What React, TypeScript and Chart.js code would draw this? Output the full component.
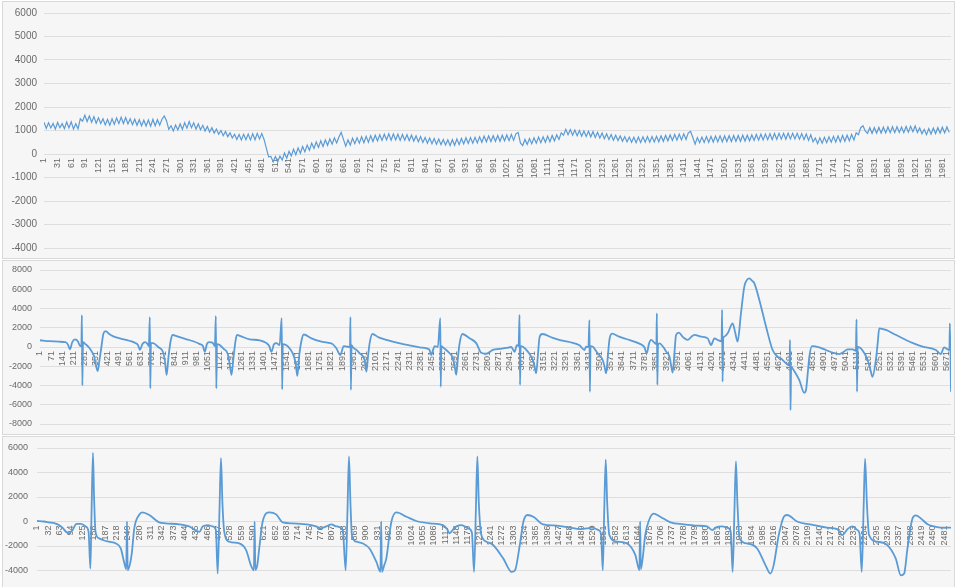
import { useEffect, useRef } from "react";
import { Chart, registerables } from "chart.js";

Chart.register(...registerables);

// ---------------- DATA ----------------
// Panel 1: sampled every P1_STEP samples starting at sample 1
const P1_STEP = 5;
const P1_Y = [
  1350,1090,1330,1110,1300,1060,1340,1120,1290,1080,
  1360,1110,1370,1060,1290,1070,1500,1400,1650,1380,
  1620,1350,1590,1310,1540,1300,1500,1240,1470,1220,
  1500,1260,1530,1290,1560,1300,1550,1280,1500,1250,
  1480,1220,1460,1200,1440,1190,1450,1180,1470,1200,
  1460,1230,1480,1620,1420,1050,1200,980,1230,1020,
  1280,1050,1330,1100,1380,1120,1330,1060,1280,1030,
  1220,980,1170,930,1120,890,1060,840,1000,780,
  960,740,900,680,840,620,830,600,840,610,
  850,600,860,610,880,640,870,620,250,-120,
  -100,-330,-110,-340,-90,-260,40,-180,110,-80,
  200,-30,260,30,320,90,380,160,460,240,
  510,280,560,320,600,370,640,420,690,470,
  720,920,620,330,600,380,670,440,690,460,
  730,480,750,500,780,530,800,560,820,580,
  840,600,860,590,850,600,840,580,830,590,
  820,570,800,550,770,520,740,490,700,460,
  680,440,660,420,640,400,620,380,600,360,
  610,370,640,400,660,430,690,450,700,460,
  710,470,730,500,760,520,770,530,780,540,
  790,540,800,560,810,570,830,580,860,920,
  470,360,620,410,660,440,690,460,720,480,
  730,500,760,520,790,560,820,620,900,800,
  1050,820,1040,800,1020,780,1000,760,980,750,
  970,730,950,700,920,680,890,650,860,620,
  830,590,800,570,770,540,740,520,720,500,
  710,480,720,490,730,500,740,500,740,510,
  750,520,770,540,790,560,810,580,830,590,
  840,600,860,620,900,960,700,420,700,480,
  720,490,740,500,750,510,760,520,770,520,
  770,530,780,530,790,540,790,540,800,550,
  800,560,810,580,830,590,840,600,850,610,
  860,610,870,620,880,630,880,630,890,640,
  880,640,880,630,870,610,850,580,820,520,
  680,440,690,460,710,480,730,500,750,510,
  770,520,790,540,800,560,830,600,900,820,
  1120,1200,980,880,1120,880,1120,890,1130,890,
  1140,900,1150,910,1160,910,1160,920,1150,910,
  1170,930,1180,950,1190,920,1110,860,1050,820,
  1080,850,1100,870,1120,890,1140,900,1150,920,
];
const P1_X_RANGE = [1, 2000];
const P1_X_TICK_RANGE = [1, 1981, 30];
const P1_Y_RANGE = [-4000, 6000, 1000];

// Panel 2
const P2_X = [1,60,120,160,176,188,203,220,238,252,260,263,266,270,285,305,322,340,352,362,372,385,398,412,430,460,500,560,600,614,626,642,658,672,682,688,691,695,708,740,770,783,793,805,818,830,860,918,960,1001,1020,1032,1045,1060,1080,1095,1101,1104,1108,1125,1150,1175,1188,1199,1212,1224,1233,1260,1313,1376,1419,1435,1449,1465,1480,1500,1513,1516,1520,1540,1565,1590,1601,1611,1622,1636,1651,1700,1751,1800,1832,1855,1880,1901,1922,1940,1943,1946,1950,1959,1980,2001,2032,2043,2053,2063,2080,2120,2168,2220,2272,2320,2376,2418,2438,2449,2460,2470,2490,2505,2508,2512,2522,2553,2584,2595,2605,2616,2626,2643,2689,2730,2761,2793,2834,2875,2918,2949,2970,2984,2995,3001,3004,3008,3022,3053,3084,3095,3105,3116,3126,3143,3209,3260,3313,3376,3407,3418,3432,3438,3441,3445,3459,3490,3521,3532,3543,3554,3564,3580,3620,3668,3751,3782,3797,3810,3824,3845,3857,3860,3863,3867,3876,3900,3918,3939,3950,3959,3970,3980,3997,4025,4053,4075,4095,4137,4178,4199,4220,4241,4265,4268,4271,4275,4282,4303,4334,4350,4365,4386,4407,4425,4438,4455,4470,4501,4543,4584,4615,4636,4668,4690,4693,4696,4700,4709,4751,4782,4793,4805,4814,4830,4876,4918,4959,5001,5030,5053,5084,5105,5109,5112,5116,5136,5178,5195,5209,5230,5242,5251,5293,5350,5418,5470,5522,5605,5636,5657,5678,5690,5693,5700];
const P2_Y = [700,600,550,500,250,-250,500,800,600,100,200,3300,-4000,500,300,0,-400,-1000,-2000,-2500,-1500,0,1400,1650,1400,1100,900,650,400,200,-300,300,500,350,100,3100,-4300,400,400,0,-500,-1500,-2900,-1000,600,1250,1100,800,600,300,100,-500,300,500,450,100,3200,-4300,300,200,-200,-700,-1800,-2900,-1000,600,1250,1100,800,700,400,100,-500,300,400,200,3000,-4400,300,200,-200,-1000,-1800,-3000,-1000,600,1300,900,600,450,300,-140,-830,100,35,0,3100,-4450,200,-35,-300,-660,-1350,-2560,-1000,380,1350,1000,730,500,310,150,-35,-140,-310,-830,-300,100,0,3000,-4130,100,-35,-480,-1180,-2000,-2900,-1000,380,1350,900,400,-600,-700,-300,-200,-100,0,-500,200,100,3330,-3950,100,35,-480,-1350,-2000,-2740,-800,1000,1350,940,700,520,170,-310,35,0,2800,-4650,100,35,-660,-1350,-2000,-2740,-800,830,1380,1100,830,350,-35,-660,300,730,450,300,3500,-3950,200,380,0,-480,-1000,-2000,-2670,-600,1250,1490,1000,730,1050,1250,1080,900,210,900,730,600,3850,-3600,900,1080,1420,2460,1500,560,3500,6270,7000,7140,6900,6620,4890,2110,-310,-1000,-1180,-1700,-1900,730,-6550,-2000,-2220,-3430,-4750,-4470,-2500,-1000,100,-35,-310,-590,-730,-500,-240,-240,-400,2880,-4650,0,-140,-1350,-2300,-3090,-1350,500,1940,1770,1300,730,350,35,-310,-730,-35,-240,-300,2460,-4650];
const P2_X_RANGE = [1, 5700];
const P2_X_TICK_RANGE = [1, 5671, 70];
const P2_Y_RANGE = [-8000, 8000, 2000];

// Panel 3
const P3_X = [1,20,34,50,61,72,80,89,98,109,121,134,142,147,150,154,157,161,171,185,198,217,230,239,245,247,249,255,260,267,280,289,308,335,353,390,417,445,454,468,481,490,495,500,504,508,513,527,554,573,586,594,596,598,603,609,618,637,655,673,700,737,764,774,792,806,819,837,845,850,854,858,862,874,892,910,929,940,942,944,950,956,970,984,1011,1038,1075,1111,1122,1129,1140,1148,1162,1180,1190,1196,1201,1205,1209,1216,1230,1248,1276,1299,1308,1321,1331,1342,1358,1385,1422,1458,1486,1504,1518,1536,1543,1548,1552,1556,1560,1566,1587,1614,1637,1648,1650,1652,1657,1664,1673,1687,1705,1733,1769,1806,1833,1847,1856,1874,1892,1898,1903,1908,1912,1916,1922,1942,1970,1993,2006,2015,2029,2043,2052,2079,2125,2161,2189,2203,2217,2230,2244,2250,2256,2261,2265,2270,2276,2299,2326,2349,2363,2372,2381,2395,2404,2417,2436,2454,2473,2500];
const P3_Y = [40,0,-70,-150,-290,-550,-840,-970,-700,-200,-200,-400,-840,-3840,500,5590,2000,-840,-1380,-1550,-1650,-1790,-2200,-3300,-3900,0,-3980,-3500,-2650,-560,530,750,530,-70,-150,-230,-400,-840,-400,-290,-400,-700,-4250,1000,5180,1500,-840,-1650,-1790,-2350,-3580,-3980,0,-3950,-3600,-2100,0,750,580,-70,-150,-230,-400,-560,-400,-230,-400,-700,-3980,1000,5320,1500,-1110,-1650,-1790,-2200,-3300,-4100,0,-4120,-3600,-3030,0,750,390,40,-150,-290,-600,-970,-600,-400,-290,-560,-900,-4120,1000,5320,1500,-1110,-1650,-1920,-3030,-4120,-3980,-1920,0,530,390,-230,-340,-500,-620,-560,-500,-700,-1000,-3980,1000,5040,1500,-1110,-1650,-1790,-2740,-3980,0,-3900,-3000,-1110,0,640,390,-70,-230,-340,-400,-700,-500,-400,-560,-900,-4120,1000,4910,1500,-1380,-1790,-2200,-3580,-4250,-3580,-1110,390,530,0,-290,-500,-620,-1110,-620,-400,-700,-1000,-4120,1000,5130,1500,-1110,-1650,-1920,-3030,-4400,-4250,-2200,270,500,270,-230,-400,-500,-500];
const P3_X_RANGE = [1, 2500];
const P3_X_TICK_RANGE = [1, 2481, 31];
const P3_Y_RANGE = [-6000, 6000, 2000];

// ---------------- STYLE / LAYOUT ----------------
const FONT = "'Liberation Sans', Arial, sans-serif";
const LINE_COLOR = "#5b9bd5";
const GRID_COLOR = "#dedede";
const TEXT_COLOR = "#6a6a6a";
const PANEL_BG = "#f6f6f6";
const PANEL_BORDER = "#d9d9d9";

function seq(range: number[]) {
  const out: number[] = [];
  for (let v = range[0]; v <= range[1]; v += range[2]) out.push(v);
  return out;
}

type PanelSpec = {
  points: { x: number; y: number }[];
  xRange: number[];
  xTicks: number[];
  yRange: number[];
  top: number;
  height: number;
  yWidth: number;
  pad: { top: number; right: number; bottom: number };
  yPad: number;
  yFont: number;
  xFont: number;
  lineWidth: number;
  smooth: boolean;
};

const PANELS: PanelSpec[] = [
  {
    points: P1_Y.map((y, i) => ({ x: 1 + i * P1_STEP, y })),
    xRange: P1_X_RANGE,
    xTicks: seq(P1_X_TICK_RANGE),
    yRange: P1_Y_RANGE,
    top: 1,
    height: 258,
    yWidth: 41,
    pad: { top: 11, right: 3, bottom: 10 },
    yPad: 7,
    yFont: 10,
    xFont: 9,
    lineWidth: 1.2,
    smooth: false,
  },
  {
    points: P2_X.map((x, i) => ({ x, y: P2_Y[i] })),
    xRange: P2_X_RANGE,
    xTicks: seq(P2_X_TICK_RANGE),
    yRange: P2_Y_RANGE,
    top: 260,
    height: 175,
    yWidth: 37,
    pad: { top: 9, right: 3, bottom: 10 },
    yPad: 8,
    yFont: 9,
    xFont: 9,
    lineWidth: 1.8,
    smooth: true,
  },
  {
    points: P3_X.map((x, i) => ({ x, y: P3_Y[i] })),
    xRange: P3_X_RANGE,
    xTicks: seq(P3_X_TICK_RANGE),
    yRange: P3_Y_RANGE,
    top: 436,
    height: 180,
    yWidth: 34,
    pad: { top: 11, right: 3, bottom: 20 },
    yPad: 9,
    yFont: 9,
    xFont: 9,
    lineWidth: 1.8,
    smooth: true,
  },
];

function Panel({ spec }: { spec: PanelSpec }) {
  const ref = useRef<HTMLCanvasElement>(null);
  const innerW = 951;
  const innerH = spec.height - 2;
  useEffect(() => {
    if (!ref.current) return;
    const chart = new Chart(ref.current, {
      type: "line",
      data: {
        datasets: [
          {
            data: spec.points,
            borderColor: LINE_COLOR,
            borderWidth: spec.lineWidth,
            pointRadius: 0,
            tension: 0,
            cubicInterpolationMode: spec.smooth ? "monotone" : "default",
            fill: false,
          } as any,
        ],
      },
      options: {
        animation: false,
        responsive: false,
        devicePixelRatio: 1,
        events: [],
        layout: { padding: { left: 0, top: spec.pad.top, right: spec.pad.right, bottom: spec.pad.bottom } },
        plugins: { legend: { display: false }, tooltip: { enabled: false }, title: { display: false } },
        scales: {
          x: {
            type: "linear",
            min: spec.xRange[0],
            max: spec.xRange[1],
            position: { y: 0 } as any,
            grid: { display: false, drawTicks: false },
            border: { display: false },
            ticks: {
              autoSkip: false,
              minRotation: 90,
              maxRotation: 90,
              padding: 4,
              color: TEXT_COLOR,
              font: { family: FONT, size: spec.xFont },
              callback: (v: any) => String(v),
            },
            afterBuildTicks: (axis: any) => {
              axis.ticks = spec.xTicks.map((v) => ({ value: v }));
            },
            afterFit: (s: any) => {
              s.paddingLeft = 0;
              s.paddingRight = 0;
            },
          },
          y: {
            type: "linear",
            min: spec.yRange[0],
            max: spec.yRange[1],
            grid: { color: GRID_COLOR, drawTicks: false, lineWidth: 1 },
            border: { display: false },
            ticks: {
              stepSize: spec.yRange[2],
              padding: spec.yPad,
              color: TEXT_COLOR,
              font: { family: FONT, size: spec.yFont },
              callback: (v: any) => String(v),
            },
            afterFit: (s: any) => {
              s.width = spec.yWidth;
              s.paddingTop = 0;
              s.paddingBottom = 0;
            },
          },
        },
      } as any,
    });
    return () => chart.destroy();
  }, [spec]);

  return (
    <div
      style={{
        position: "absolute",
        left: 2,
        top: spec.top,
        width: 953,
        height: spec.height,
        boxSizing: "border-box",
        border: `1px solid ${PANEL_BORDER}`,
        background: PANEL_BG,
        overflow: "hidden",
      }}
    >
      <canvas ref={ref} width={innerW} height={innerH} style={{ display: "block", width: innerW, height: innerH }} />
    </div>
  );
}

export default function App() {
  return (
    <div
      style={{
        position: "fixed",
        left: 0,
        top: 0,
        width: 960,
        height: 587,
        overflow: "hidden",
        background: "#ffffff",
      }}
    >
      {PANELS.map((p, i) => (
        <Panel key={i} spec={p} />
      ))}
    </div>
  );
}
